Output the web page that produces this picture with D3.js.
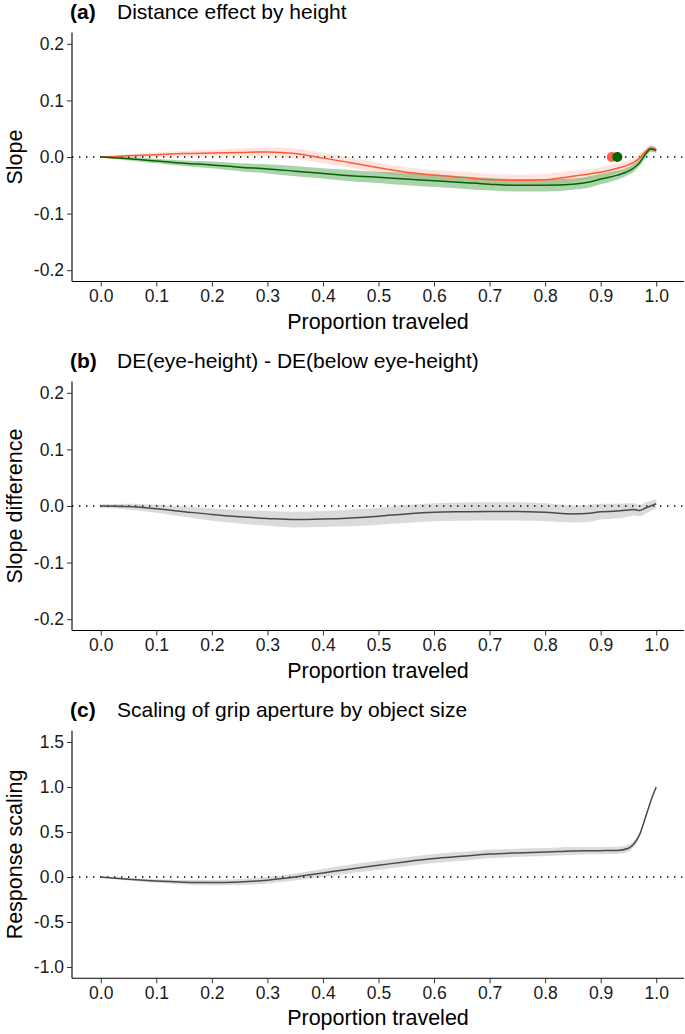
<!DOCTYPE html>
<html>
<head>
<meta charset="utf-8">
<script src="https://cdn.jsdelivr.net/npm/d3@7"></script>
<style>
  html, body { margin: 0; padding: 0; background: #fff; }
  svg { display: block; font-family: "Liberation Sans", Arial, sans-serif; }
</style>
</head>
<body>
<svg id="chart" width="685" height="1034"></svg>
<script>
// ---------- data ----------
const props = [0, 0.05, 0.1, 0.15, 0.2, 0.25, 0.3, 0.35, 0.4, 0.45, 0.5, 0.55, 0.6, 0.65, 0.7, 0.75, 0.8, 0.85, 0.88, 0.9, 0.93, 0.95, 0.96, 0.97, 0.98, 0.99, 1.0];
const xTicks = [0, 0.1, 0.2, 0.3, 0.4, 0.5, 0.6, 0.7, 0.8, 0.9, 1.0];

// Panel (a): distance effect by height
const eyeSlope   = [0, -0.003, -0.007, -0.011, -0.014, -0.018, -0.021, -0.025, -0.029, -0.033, -0.036, -0.039, -0.042, -0.045, -0.048, -0.050, -0.050, -0.048, -0.044, -0.039, -0.032, -0.025, -0.019, -0.010, 0.004, 0.014, 0.012];
const eyeHalf    = [0.001, 0.003, 0.004, 0.005, 0.006, 0.007, 0.008, 0.009, 0.009, 0.010, 0.010, 0.011, 0.011, 0.011, 0.011, 0.011, 0.011, 0.010, 0.010, 0.009, 0.008, 0.007, 0.007, 0.006, 0.006, 0.005, 0.005];
const belowSlope = [0, 0.002, 0.004, 0.006, 0.007, 0.008, 0.009, 0.006, -0.002, -0.010, -0.019, -0.027, -0.032, -0.036, -0.040, -0.041, -0.040, -0.034, -0.030, -0.027, -0.020, -0.014, -0.009, -0.002, 0.009, 0.016, 0.012];
const belowHalf  = [0.001, 0.003, 0.004, 0.005, 0.006, 0.007, 0.008, 0.009, 0.009, 0.009, 0.009, 0.009, 0.009, 0.010, 0.010, 0.010, 0.010, 0.010, 0.009, 0.009, 0.008, 0.008, 0.007, 0.007, 0.006, 0.006, 0.005];
const dotProps   = [0.92, 0.93];   // below eye-height, eye-height
const dotValues  = [0, 0];

// Panel (b): slope difference
const diffSlope = [0, -0.001, -0.005, -0.010, -0.015, -0.019, -0.022, -0.024, -0.023, -0.021, -0.018, -0.014, -0.011, -0.010, -0.0095, -0.0095, -0.011, -0.014, -0.013, -0.010, -0.009, -0.007, -0.006, -0.008, -0.004, 0.0, 0.004];
const diffHalf  = [0.003, 0.005, 0.007, 0.009, 0.011, 0.012, 0.013, 0.014, 0.014, 0.015, 0.015, 0.016, 0.016, 0.016, 0.016, 0.016, 0.016, 0.015, 0.015, 0.014, 0.013, 0.012, 0.011, 0.010, 0.010, 0.009, 0.008];

// Panel (c): scaling of grip aperture
const gripScale = [0, -0.025, -0.045, -0.057, -0.062, -0.055, -0.035, 0.0, 0.045, 0.09, 0.13, 0.17, 0.205, 0.23, 0.255, 0.268, 0.277, 0.29, 0.292, 0.293, 0.295, 0.32, 0.37, 0.47, 0.65, 0.84, 1.0];
const gripHalf  = [0.005, 0.015, 0.02, 0.025, 0.03, 0.033, 0.036, 0.04, 0.045, 0.048, 0.05, 0.05, 0.05, 0.05, 0.048, 0.046, 0.044, 0.042, 0.04, 0.04, 0.04, 0.04, 0.035, 0.03, 0.02, 0.01, 0.005];

const yTicksA = [-0.2, -0.1, 0, 0.1, 0.2];
const yTicksC = [-1.0, -0.5, 0, 0.5, 1.0, 1.5];

// ---------- drawing ----------
const svg = d3.select("#chart");
const left = 72, right = 684;
const x = d3.scaleLinear().domain([-0.05, 1.05]).range([left + 1, right]);

const panels = [
  { tag: "(a)", title: "Distance effect by height", ylab: "Slope",
    top: 32.5, bottom: 281.5, dom: [-0.22, 0.22], ticks: yTicksA,
    series: [
      { v: belowSlope, h: belowHalf, line: "#FF5A36", fill: "#FF6347", op: 0.18 },
      { v: eyeSlope, h: eyeHalf, line: "#006400", fill: "#228B22", op: 0.38 }
    ], dots: true },
  { tag: "(b)", title: "DE(eye-height) - DE(below eye-height)", ylab: "Slope difference",
    top: 381.5, bottom: 630.5, dom: [-0.22, 0.22], ticks: yTicksA,
    series: [ { v: diffSlope, h: diffHalf, line: "#4a4a4a", fill: "#000", op: 0.14 } ] },
  { tag: "(c)", title: "Scaling of grip aperture by object size", ylab: "Response scaling",
    top: 730.75, bottom: 978.25, dom: [-1.125, 1.625], ticks: yTicksC,
    series: [ { v: gripScale, h: gripHalf, line: "#4a4a4a", fill: "#000", op: 0.14 } ] }
];

const fmt = v => d3.format(".1f")(v).replace("\u2212", "-");

panels.forEach(p => {
  const y = d3.scaleLinear().domain(p.dom).range([p.bottom, p.top]);
  const g = svg.append("g");

  // ribbons
  p.series.forEach(s => {
    const area = d3.area()
      .x((d, i) => x(props[i]))
      .y0((d, i) => y(s.v[i] - s.h[i]))
      .y1((d, i) => y(s.v[i] + s.h[i]))
      .curve(d3.curveMonotoneX);
    g.append("path").attr("d", area(props)).attr("fill", s.fill).attr("fill-opacity", s.op);
  });

  // zero reference
  g.append("line")
    .attr("x1", left).attr("x2", right)
    .attr("y1", y(0)).attr("y2", y(0))
    .attr("stroke", "#000").attr("stroke-width", 1.4)
    .attr("stroke-dasharray", "1.4 5.6");

  // lines
  p.series.forEach(s => {
    const line = d3.line()
      .x((d, i) => x(props[i]))
      .y((d, i) => y(s.v[i]))
      .curve(d3.curveMonotoneX);
    g.append("path").attr("d", line(props)).attr("fill", "none")
      .attr("stroke", s.line).attr("stroke-width", 1.5);
  });

  if (p.dots) {
    const cols = ["#FF6347", "#006400"];
    dotProps.forEach((d, i) => {
      g.append("circle").attr("cx", x(d)).attr("cy", y(dotValues[i])).attr("r", 5).attr("fill", cols[i]);
    });
  }

  // axes
  const xa = g.append("g").attr("transform", `translate(0,${p.bottom})`)
    .call(d3.axisBottom(x).tickValues(xTicks).tickFormat(fmt).tickSize(5).tickPadding(3));
  const ya = g.append("g").attr("transform", `translate(${left},0)`)
    .call(d3.axisLeft(y).tickValues(p.ticks).tickFormat(fmt).tickSize(5).tickPadding(3));
  [xa, ya].forEach(a => {
    a.select(".domain").attr("stroke", "#000").attr("stroke-width", 1.1);
    a.selectAll(".tick line").attr("stroke", "#333").attr("stroke-width", 1);
    a.selectAll(".tick text").attr("fill", "#1a1a1a").style("font-size", "17.5px")
      .style("font-family", "'Liberation Sans', Arial, sans-serif");
  });
  xa.select(".domain").attr("d", `M${left},0H${right}`);
  ya.select(".domain").attr("d", `M0,${p.top}V${p.bottom}`);

  // titles
  g.append("text").attr("x", 70).attr("y", p.top - 13.5)
    .style("font-size", "21px").style("font-weight", "bold").attr("fill", "#000").text(p.tag);
  g.append("text").attr("x", 117).attr("y", p.top - 13.5)
    .style("font-size", "21px").attr("fill", "#000").text(p.title);

  g.append("text").attr("x", (left + right) / 2).attr("y", p.bottom + 47)
    .attr("text-anchor", "middle").style("font-size", "21.5px").attr("fill", "#000").text("Proportion traveled");

  g.append("text")
    .attr("transform", `translate(22,${(p.top + p.bottom) / 2}) rotate(-90)`)
    .attr("text-anchor", "middle").style("font-size", "21.5px").attr("fill", "#000").text(p.ylab);
});
</script>
</body>
</html>
